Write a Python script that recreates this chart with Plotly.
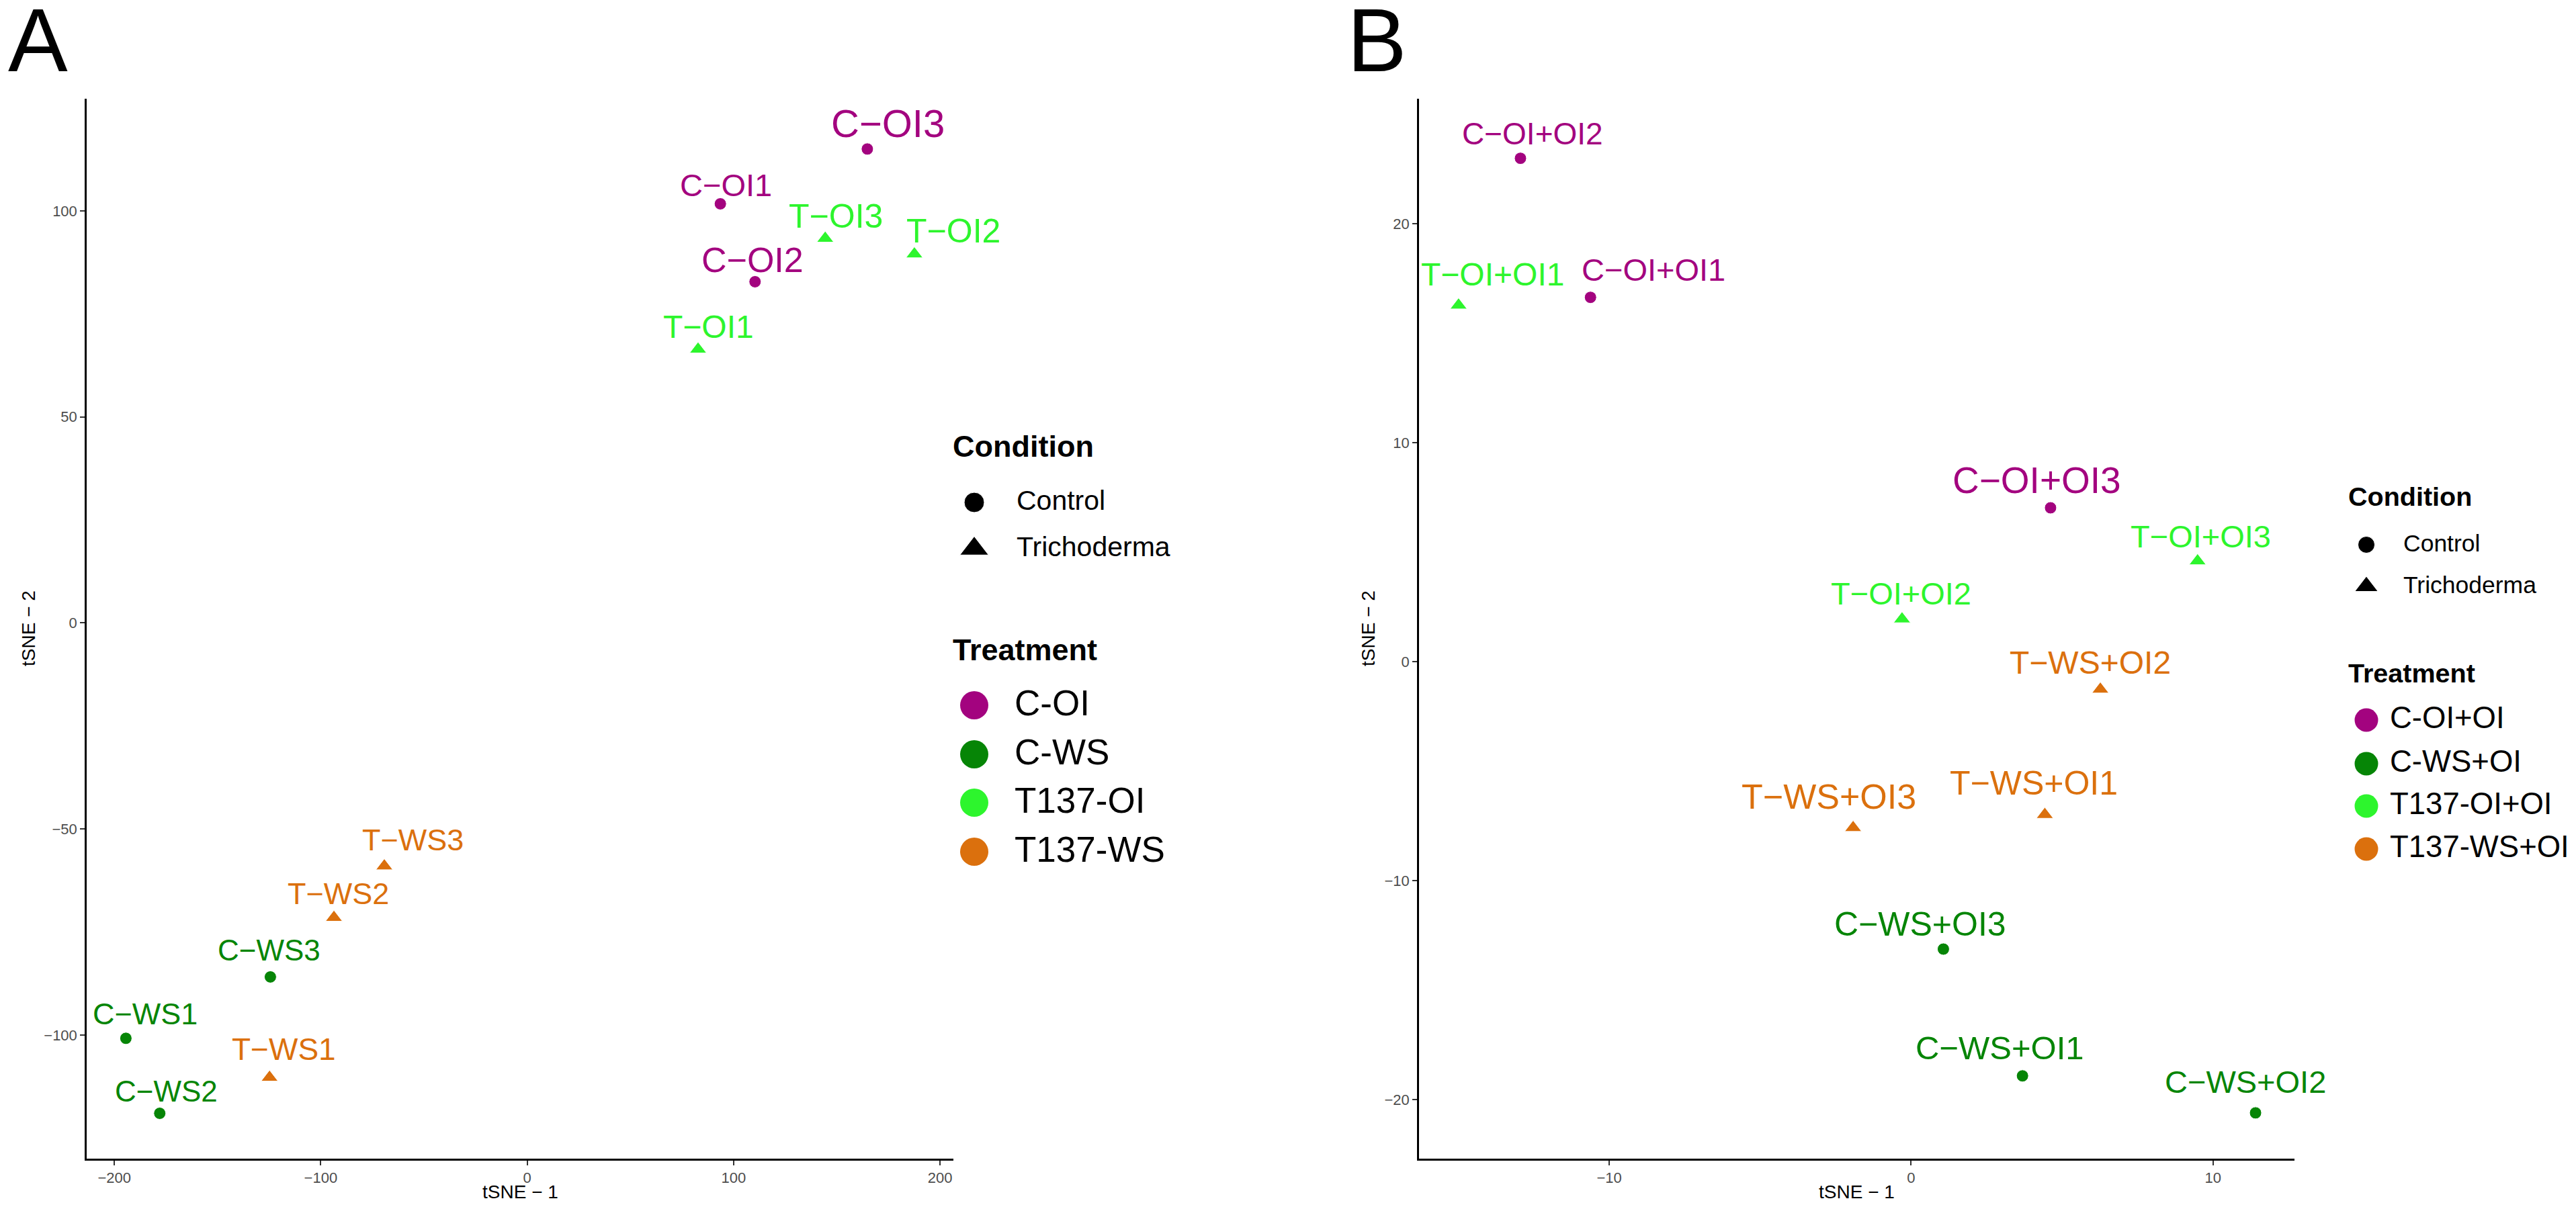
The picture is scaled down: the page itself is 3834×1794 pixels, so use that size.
import plotly.graph_objects as go

W, H = 3834, 1794          # browser window
OFF = 8                    # page body margin: the figure starts 8px in
WF, HF = W - OFF, H - OFF  # figure size
FONT = "Liberation Sans, Arial, sans-serif"

# ---- panel A data ----
samples_a = ["C-OI1", "C-OI2", "C-OI3", "T-OI1", "T-OI2", "T-OI3",
             "C-WS1", "C-WS2", "C-WS3", "T-WS1", "T-WS2", "T-WS3"]
tsne1_a = [93.6, 110.4, 164.8, 82.8, 187.6, 144.4,
           -194.4, -178.0, -124.4, -124.8, -93.6, -69.2]
tsne2_a = [101.7, 82.8, 115.0, 66.4, 89.5, 93.3,
           -100.8, -119.0, -85.9, -110.3, -71.5, -59.0]
condition_a = ["Control"] * 3 + ["Trichoderma"] * 3 + ["Control"] * 3 + ["Trichoderma"] * 3
treatment_a = ["C-OI"] * 3 + ["T137-OI"] * 3 + ["C-WS"] * 3 + ["T137-WS"] * 3
treatments_a = ["C-OI", "C-WS", "T137-OI", "T137-WS"]

# ---- panel B data ----
samples_b = ["C-OI+OI1", "C-OI+OI2", "C-OI+OI3", "T-OI+OI1", "T-OI+OI2", "T-OI+OI3",
             "C-WS+OI1", "C-WS+OI2", "C-WS+OI3", "T-WS+OI1", "T-WS+OI2", "T-WS+OI3"]
tsne1_b = [-10.62, -12.94, 4.62, -14.99, -0.30, 9.49,
           3.69, 11.41, 1.07, 4.43, 6.27, -1.92]
tsne2_b = [16.63, 22.98, 7.02, 16.27, 1.94, 4.59,
           -18.92, -20.61, -13.13, -6.99, -1.27, -7.59]
condition_b = condition_a
treatment_b = ["C-OI+OI"] * 3 + ["T137-OI+OI"] * 3 + ["C-WS+OI"] * 3 + ["T137-WS+OI"] * 3
treatments_b = ["C-OI+OI", "C-WS+OI", "T137-OI+OI", "T137-WS+OI"]

conditions = ["Control", "Trichoderma"]

# ---- styles ----
palette = ["#A3037F", "#068506", "#2DF52D", "#DB700D"]
symbols = {"Control": "circle", "Trichoderma": "triangle-up"}
msize = {"Control": 18, "Trichoderma": 22}

# label nudges (px) and font sizes, same order as samples
label_style_a = [(8, 28, 47), (-4, 32, 52), (31, 38, 58), (16, 34, 48), (58, 34, 50), (16, 33, 50),
                 (29, 36, 45), (10, 33, 44), (-2, 40, 44), (21, 42, 46), (6, 36, 45), (42, 39, 45)]
label_style_b = [(94, 41, 47), (18, 37, 46), (-20, 41, 55), (51, 46, 48), (-1, 38, 47), (5, 37, 47),
                 (-34, 42, 49), (-15, 46, 47), (-34, 37, 50), (-16, 47, 50), (-15, 40, 48), (-36, 46, 52)]


def fx(px):
    return (px - OFF) / WF


def fy(py):
    return 1 - (py - OFF) / HF


fig = go.Figure()
annotations = []


def add_panel(xa, ya, samples, t1, t2, cond, treat, treat_levels, styles):
    for k, lev in enumerate(treat_levels):
        idx = [i for i, t in enumerate(treat) if t == lev]
        fig.add_trace(go.Scatter(
            x=[t1[i] for i in idx], y=[t2[i] for i in idx],
            mode="markers", xaxis=xa, yaxis=ya, showlegend=False,
            marker=dict(color=palette[k], opacity=1,
                        symbol=[symbols[cond[i]] for i in idx],
                        size=[msize[cond[i]] for i in idx]),
        ))
        for i in idx:
            dx, dy, fs = styles[i]
            annotations.append(dict(
                x=t1[i], y=t2[i], xref=xa, yref=ya, text=samples[i].replace("-", "\u2212"),
                showarrow=False, xanchor="center", yanchor="middle", xshift=dx, yshift=dy,
                font=dict(family=FONT, size=fs, color=palette[k]),
            ))


add_panel("x", "y", samples_a, tsne1_a, tsne2_a, condition_a, treatment_a, treatments_a, label_style_a)
add_panel("x2", "y2", samples_b, tsne1_b, tsne2_b, condition_b, treatment_b, treatments_b, label_style_b)


# overlay axis in screen pixels for legends, titles and panel letters
def text_px(x, y, s, size, bold=False, anchor="left", angle=0, color="black"):
    annotations.append(dict(
        x=x, y=y - (0.07 * size if angle == 0 else 0), xref="x3", yref="y3",
        text="<b>%s</b>" % s if bold else s,
        showarrow=False, xanchor=anchor, yanchor="middle", textangle=angle,
        font=dict(family=FONT, size=size, color=color),
    ))


def legend_block(x0, sym_x, ctext_x, ttext_x, y_ctitle, y_cond, y_ttitle, y_treat,
                 tsize, csize, isize, c_sym, t_sym, levels):
    text_px(x0, y_ctitle, "Condition", tsize, bold=True)
    fig.add_trace(go.Scatter(
        x=[sym_x, sym_x], y=y_cond, mode="markers", xaxis="x3", yaxis="y3",
        showlegend=False, hoverinfo="skip",
        marker=dict(color="black", opacity=1, symbol=[symbols[c] for c in conditions], size=c_sym),
    ))
    for c, yy in zip(conditions, y_cond):
        text_px(ctext_x, yy, c, csize)
    text_px(x0, y_ttitle, "Treatment", tsize, bold=True)
    fig.add_trace(go.Scatter(
        x=[sym_x] * len(levels), y=y_treat, mode="markers", xaxis="x3", yaxis="y3",
        showlegend=False, hoverinfo="skip",
        marker=dict(color=palette, opacity=1, symbol="circle", size=t_sym),
    ))
    for lev, yy in zip(levels, y_treat):
        text_px(ttext_x, yy, lev, isize)


legend_block(1416, 1450, 1511, 1508, 668, [748, 817], 971, [1050, 1123, 1195, 1268],
             45, 41, 53, [30, 37], 42, treatments_a)
legend_block(3493, 3522, 3575, 3555, 742, [811, 873], 1005, [1072, 1137, 1200, 1264],
             39.5, 35.5, 45.5, [25, 30], 35, treatments_b)

# axis titles
text_px(774, 1776, "tSNE \u2212 1", 28, anchor="center")
text_px(2763, 1776, "tSNE \u2212 1", 28, anchor="center")
text_px(42, 936, "tSNE \u2212 2", 28, anchor="center", angle=-90)
text_px(2036, 936, "tSNE \u2212 2", 28, anchor="center", angle=-90)

# panel letters
text_px(10, 69, "A", 133)
text_px(2003, 69, "B", 133)

ydom = [fy(1725), fy(147)]
axis_style = dict(
    showline=True, linecolor="black", linewidth=2.5, showgrid=False, zeroline=False,
    ticks="outside", ticklen=7, tickwidth=1.5, tickcolor="#333333",
    tickfont=dict(family=FONT, size=22, color="#4D4D4D"), mirror=False,
)

fig.update_layout(
    width=WF, height=HF, margin=dict(l=0, r=0, t=0, b=0),
    paper_bgcolor="white", plot_bgcolor="rgba(0,0,0,0)",
    showlegend=False, annotations=annotations,
    xaxis=dict(domain=[fx(129), fx(1419)], range=[-213.4, 206.5], dtick=100, anchor="y", **axis_style),
    yaxis=dict(domain=ydom, range=[-130, 127.2], dtick=50, anchor="x", **axis_style),
    xaxis2=dict(domain=[fx(2112), fx(3415)], range=[-16.3, 12.7], dtick=10, anchor="y2", **axis_style),
    yaxis2=dict(domain=ydom, range=[-22.7, 25.7], dtick=10, anchor="x2", **axis_style),
    xaxis3=dict(domain=[0, 1], range=[OFF, W], anchor="y3", visible=False, fixedrange=True),
    yaxis3=dict(domain=[0, 1], range=[H, OFF], anchor="x3", visible=False, fixedrange=True),
)

fig.write_html("out.html")
